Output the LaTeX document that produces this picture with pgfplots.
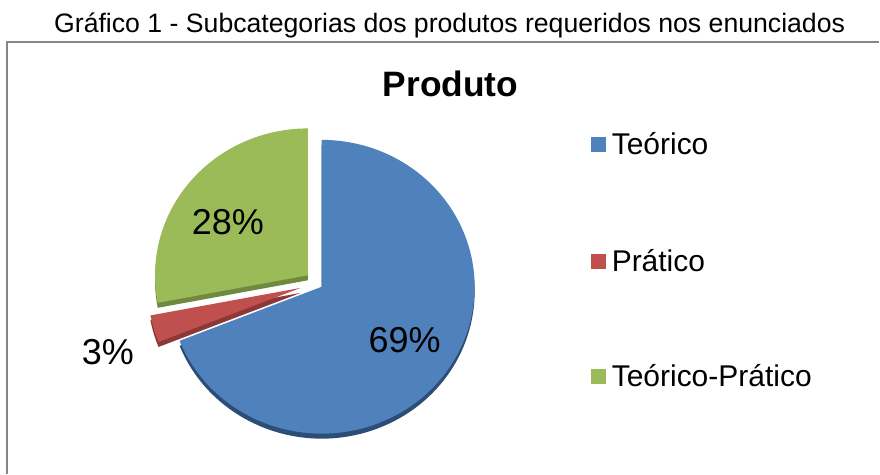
\documentclass[border=0pt]{standalone}
\usepackage{fontspec}
\setmainfont{Liberation Sans}
\usepackage{pgfplots}
\usepackage{pgfplotstable}
\pgfplotsset{compat=1.18}
\definecolor{cBlue}{HTML}{4F81BD}
\definecolor{cRed}{HTML}{C0504D}
\definecolor{cGreen}{HTML}{9BBB59}
\definecolor{dBlue}{HTML}{2C4D75}
\definecolor{dRed}{HTML}{8C3836}
\definecolor{dGreen}{HTML}{71893F}
\definecolor{frameGray}{HTML}{868686}
\pgfplotstableread{
cat value
1 69
2 3
3 28
}\piedata
\pgfplotstablegetelem{0}{value}\of\piedata \let\vA\pgfplotsretval
\pgfplotstablegetelem{1}{value}\of\piedata \let\vB\pgfplotsretval
\pgfplotstablegetelem{2}{value}\of\piedata \let\vC\pgfplotsretval
% angles (clockwise from 12 o'clock)
\pgfmathsetmacro\aA{90}
\pgfmathsetmacro\aB{90-3.6*\vA}
\pgfmathsetmacro\aC{\aB-3.6*\vB}
\pgfmathsetmacro\aD{\aC-3.6*\vC}
\pgfmathsetmacro\mB{(\aB+\aC)/2}
\pgfmathsetmacro\mC{(\aC+\aD)/2}
\pgfmathsetmacro\rxB{322+22*cos(\mB)}
\pgfmathsetmacro\ryB{187+22*sin(\mB)+5}
\pgfmathsetmacro\rxC{322+18*cos(\mC)}
\pgfmathsetmacro\ryC{187+18*sin(\mC)}
\newcommand\slice[6]{% cx cy start end face dark
  \fill[#6] (axis cs:#1,#2-5) -- ([shift={(#3:114.75pt and 110.25pt)}]axis cs:#1,#2-5)
     arc[start angle=#3, end angle=#4, x radius=114.75pt, y radius=110.25pt] -- cycle;
  \fill[#5] (axis cs:#1,#2) -- ([shift={(#3:114.75pt and 110.25pt)}]axis cs:#1,#2)
     arc[start angle=#3, end angle=#4, x radius=114.75pt, y radius=110.25pt] -- cycle;
}
\begin{document}
\begin{tikzpicture}
\begin{axis}[
  x=0.75pt, y=0.75pt,
  xmin=0, xmax=880, ymin=0, ymax=474,
  hide axis, clip=false,
  at={(0,0)}, anchor=south west,
]
\addplot[draw=none] coordinates {(0,0) (880,474)};
\draw[frameGray, line width=1.1pt] (axis cs:7,0) -- (axis cs:7,432) -- (axis cs:880,432);
\node[anchor=base, font=\fontsize{20}{24}\selectfont] at (axis cs:450,441)
  {Gráfico 1 - Subcategorias dos produtos requeridos nos enunciados};
\node[anchor=base, font=\fontsize{26.5}{30}\selectfont\bfseries] at (axis cs:451,377) {Produto};
% slices
\slice{\rxC}{\ryC}{\aC}{\aD}{cGreen}{dGreen}
\slice{\rxB}{\ryB}{\aC}{\aB}{cRed}{dRed}
\slice{322}{187}{\aB}{\aA}{cBlue}{dBlue}
% labels
\node[anchor=base, font=\fontsize{27}{30}\selectfont] at (axis cs:405,121) {\vA\%};
\node[anchor=base, font=\fontsize{27}{30}\selectfont] at (axis cs:228,239) {\vC\%};
\node[anchor=base, font=\fontsize{27}{30}\selectfont] at (axis cs:108,109) {\vB\%};
% legend
\fill[cBlue] (axis cs:591,321.5) rectangle (axis cs:606,336.5);
\fill[cRed] (axis cs:591,204.5) rectangle (axis cs:606,219.5);
\fill[cGreen] (axis cs:591,89.5) rectangle (axis cs:606,104.5);
\node[anchor=base west, inner sep=0pt, font=\fontsize{22.5}{26}\selectfont] at (axis cs:612,319) {Teórico};
\node[anchor=base west, inner sep=0pt, font=\fontsize{22.5}{26}\selectfont] at (axis cs:612,202) {Prático};
\node[anchor=base west, inner sep=0pt, font=\fontsize{22.5}{26}\selectfont] at (axis cs:612,87) {Teórico-Prático};
\end{axis}
\end{tikzpicture}
\end{document}
